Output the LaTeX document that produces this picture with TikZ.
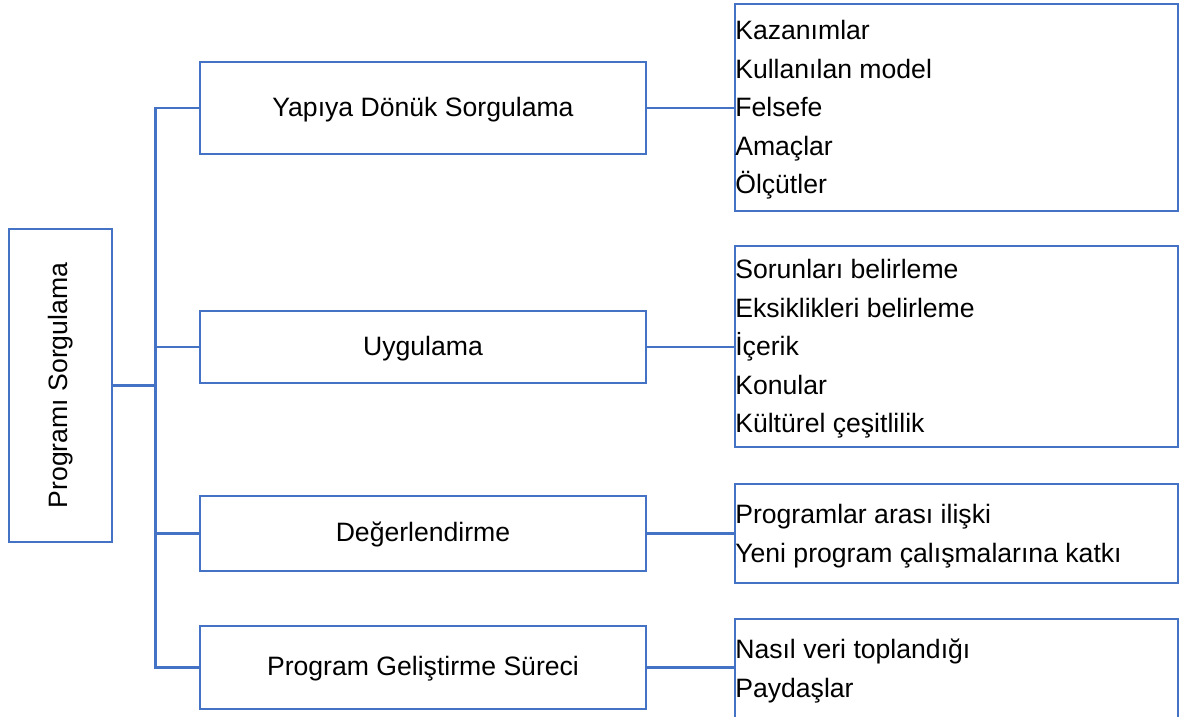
\documentclass[tikz,border=0pt]{standalone}
\usepackage{fontspec}
\setmainfont{Liberation Sans}
\definecolor{lineblue}{HTML}{4472C4}
\tikzset{
  x=1pt, y=-1pt,
  every node/.style={font=\fontsize{26.6pt}{38.5pt}\selectfont, inner sep=0pt},
  box/.style={draw=lineblue, line width=2.8pt, rectangle},
  midbox/.style={box, minimum width=446pt, align=center, text height=20pt, text depth=4pt},
  listbox/.style={box, minimum width=443pt},
  listtext/.style={align=left, anchor=west},
  conn/.style={draw=lineblue, line width=2.8pt}
}
\begin{document}
\begin{tikzpicture}
\useasboundingbox (0,0) rectangle (1181,717);
\fill[white] (0,0) rectangle (1181,717);
% left root
\node[box, minimum width=103pt, minimum height=313pt] (L) at (60.5,385.5) {};
\node[rotate=90] (Lt) at (L.center) {Programı Sorgulama};
% middle
\node[midbox, minimum height=92pt] (M1) at (423,108) {Yapıya Dönük Sorgulama};
\node[midbox, minimum height=72pt] (M2) at (423,347) {Uygulama};
\node[midbox, minimum height=75pt] (M3) at (423,533.5) {Değerlendirme};
\node[midbox, minimum height=83pt] (M4) at (423,667.5) {Program Geliştirme Süreci};
% right
\node[listbox, minimum height=207pt] (R1) at (956.5,107.5) {};
\node[listtext] (R1t) at ([xshift=1.5pt,yshift=-2.5pt]R1.west) {Kazanımlar\\Kullanılan model\\Felsefe\\Amaçlar\\Ölçütler};
\node[listbox, minimum height=201pt] (R2) at (956.5,346.5) {};
\node[listtext] (R2t) at ([xshift=1.5pt,yshift=-2.5pt]R2.west) {Sorunları belirleme\\Eksiklikleri belirleme\\İçerik\\Konular\\Kültürel çeşitlilik};
\node[listbox, minimum height=99pt] (R3) at (956.5,533.5) {};
\node[listtext] (R3t) at ([xshift=1.5pt,yshift=-2.5pt]R3.west) {Programlar arası ilişki\\Yeni program çalışmalarına katkı};
\node[listbox, minimum height=99pt] (R4) at (956.5,668.5) {};
\node[listtext] (R4t) at ([xshift=1.5pt,yshift=-2.5pt]R4.west) {Nasıl veri toplandığı\\Paydaşlar};
% trunk
\coordinate (tr) at (155.5,0);
\draw[conn] (L.east) -- (L.east -| tr);
\draw[conn] (M1.west) -- (M1.west -| tr) -- (M4.west -| tr) -- (M4.west);
\draw[conn] (M2.west) -- (M2.west -| tr);
\draw[conn] (M3.west) -- (M3.west -| tr);
% middle to right
\draw[conn] (M1.east) -- (M1.east -| R1.west);
\draw[conn] (M2.east) -- (M2.east -| R2.west);
\draw[conn] (M3.east) -- (M3.east -| R3.west);
\draw[conn] (M4.east) -- (M4.east -| R4.west);
\end{tikzpicture}
\end{document}
